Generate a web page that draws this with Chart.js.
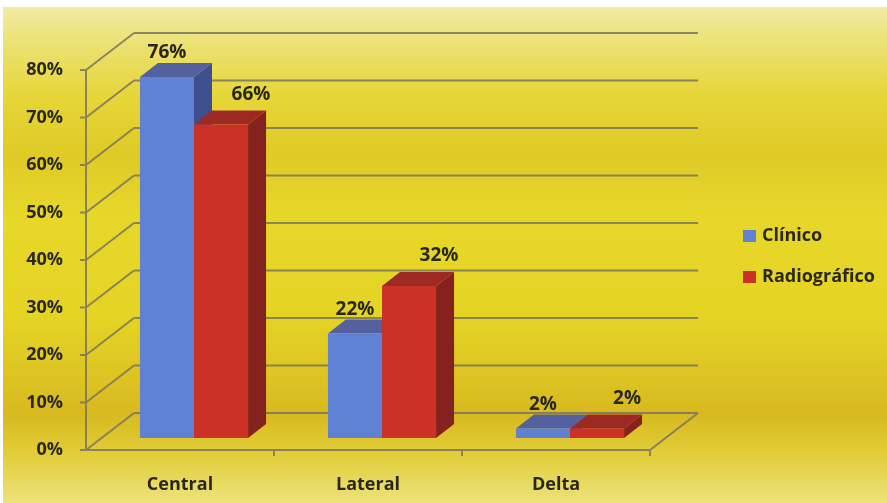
<!DOCTYPE html>
<html>
<head>
<meta charset="utf-8">
<script src="https://cdn.jsdelivr.net/npm/chart.js@4"></script>
<style>
  html, body { margin: 0; padding: 0; background: #fff; }
  #wrap { width: 887px; height: 503px; }
</style>
</head>
<body>
<div id="wrap"><canvas id="locChart" width="887" height="503"></canvas></div>
<script>
// Localização: clínico vs radiográfico (%)
const categories = ['Central', 'Lateral', 'Delta'];
const seriesNames = ['Clínico', 'Radiográfico'];
const clinico = [76, 22, 2];
const radiografico = [66, 32, 2];
const yMax = 80;
const yStep = 10;

const TEXT = '#2a281b';
const GRID = 'rgba(120, 118, 95, 0.85)';
const FONT = '"Open Sans", "Noto Sans", sans-serif';

// depth of the back wall and of the bars, plus where bars sit inside the box
const WALL = { dx: 48, dy: -37 };
const BAR_SHIFT = { dx: 14, dy: -12 };
const BAR_DEPTH = { dx: 18, dy: -14 };

const faces = [
    { front: '#5f82d4', top: '#55609e', side: '#3f4f8e' },
    { front: '#cc3128', top: '#9c2a22', side: '#86221e' }
];

const box3d = {
    id: 'box3d',
    beforeDraw(chart) {
        const { ctx, width, height } = chart;
        ctx.save();
        ctx.fillStyle = '#ffffff';
        ctx.fillRect(0, 0, width, height);
        const g = ctx.createLinearGradient(0, 7, 0, height);
        g.addColorStop(0.00, '#f1eca6');
        g.addColorStop(0.07, '#ece276');
        g.addColorStop(0.18, '#e6d638');
        g.addColorStop(0.30, '#dfca26');
        g.addColorStop(0.42, '#e7d72a');
        g.addColorStop(0.62, '#e5d424');
        g.addColorStop(0.76, '#dcc222');
        g.addColorStop(0.82, '#d8b920');
        g.addColorStop(0.90, '#e2cd38');
        g.addColorStop(1.00, '#ede27c');
        ctx.fillStyle = g;
        ctx.fillRect(3, 7, width - 3, height - 7);
        ctx.restore();
    },
    beforeDatasetsDraw(chart) {
        const { ctx, chartArea: a, scales } = chart;
        const y = scales.y;
        ctx.save();
        ctx.strokeStyle = GRID;
        ctx.lineWidth = 2;
        ctx.beginPath();
        // back wall lines, left wall diagonals and small ticks
        for (let v = 0; v <= yMax; v += yStep) {
            const py = y.getPixelForValue(v);
            ctx.moveTo(a.left + WALL.dx, py + WALL.dy);
            ctx.lineTo(a.right + WALL.dx, py + WALL.dy);
            ctx.moveTo(a.left, py);
            ctx.lineTo(a.left + WALL.dx, py + WALL.dy);
            ctx.moveTo(a.left - 6, py);
            ctx.lineTo(a.left, py);
        }
        // front axis and floor edges
        ctx.moveTo(a.left, a.top);
        ctx.lineTo(a.left, a.bottom);
        ctx.moveTo(a.left, a.bottom);
        ctx.lineTo(a.right, a.bottom);
        ctx.lineTo(a.right + WALL.dx, a.bottom + WALL.dy);
        // category separators
        const slot = (a.right - a.left) / categories.length;
        for (let i = 1; i <= categories.length; i++) {
            const px = a.left + slot * i;
            ctx.moveTo(px, a.bottom);
            ctx.lineTo(px, a.bottom + 6);
        }
        ctx.stroke();

        // bars as boxes: side, top, then front face
        chart.data.datasets.forEach((ds, di) => {
            const meta = chart.getDatasetMeta(di);
            const c = faces[di];
            meta.data.forEach((bar) => {
                const p = bar.getProps(['x', 'y', 'base', 'width'], true);
                const l = p.x - p.width / 2 + BAR_SHIFT.dx;
                const r = p.x + p.width / 2 + BAR_SHIFT.dx;
                const t = p.y + BAR_SHIFT.dy;
                const b = p.base + BAR_SHIFT.dy;
                ctx.fillStyle = c.side;
                ctx.beginPath();
                ctx.moveTo(r, t);
                ctx.lineTo(r + BAR_DEPTH.dx, t + BAR_DEPTH.dy);
                ctx.lineTo(r + BAR_DEPTH.dx, b + BAR_DEPTH.dy);
                ctx.lineTo(r, b);
                ctx.closePath();
                ctx.fill();
                ctx.fillStyle = c.top;
                ctx.beginPath();
                ctx.moveTo(l, t);
                ctx.lineTo(r, t);
                ctx.lineTo(r + BAR_DEPTH.dx, t + BAR_DEPTH.dy);
                ctx.lineTo(l + BAR_DEPTH.dx, t + BAR_DEPTH.dy);
                ctx.closePath();
                ctx.fill();
                ctx.fillStyle = c.front;
                ctx.fillRect(l, t, r - l, b - t);
            });
        });

        // value labels
        ctx.fillStyle = TEXT;
        ctx.font = 'bold 19px ' + FONT;
        ctx.textAlign = 'center';
        ctx.textBaseline = 'middle';
        chart.data.datasets.forEach((ds, di) => {
            const meta = chart.getDatasetMeta(di);
            meta.data.forEach((bar, i) => {
                const p = bar.getProps(['x', 'y'], true);
                const top = p.y + BAR_SHIFT.dy + BAR_DEPTH.dy;
                let lx, ly;
                if (di === 0) {
                    lx = p.x + BAR_SHIFT.dx;
                    ly = top - 10;
                } else {
                    lx = p.x + BAR_SHIFT.dx + BAR_DEPTH.dx + 12;
                    ly = top - 16;
                }
                ctx.fillText(ds.data[i] + '%', lx, ly);
            });
        });
        ctx.restore();
        return false;
    },
    afterDraw(chart) {
        const { ctx } = chart;
        ctx.save();
        ctx.font = 'bold 18px ' + FONT;
        ctx.textAlign = 'left';
        ctx.textBaseline = 'middle';
        chart.data.datasets.forEach((ds, di) => {
            const cy = 236 + di * 41;
            ctx.fillStyle = faces[di].front;
            ctx.fillRect(743, cy - 6, 13, 12);
            ctx.fillStyle = TEXT;
            ctx.fillText(ds.label, 762, cy);
        });
        ctx.restore();
    }
};

new Chart(document.getElementById('locChart'), {
    type: 'bar',
    data: {
        labels: categories,
        datasets: [
            { label: seriesNames[0], data: clinico, backgroundColor: faces[0].front },
            { label: seriesNames[1], data: radiografico, backgroundColor: faces[1].front }
        ]
    },
    options: {
        responsive: false,
        animation: false,
        layout: { padding: { top: 70, right: 237, left: 0, bottom: 0 } },
        datasets: { bar: { categoryPercentage: 0.575, barPercentage: 1 } },
        plugins: { legend: { display: false }, tooltip: { enabled: false } },
        scales: {
            x: {
                grid: { display: false },
                border: { display: false },
                ticks: { color: TEXT, padding: 16, font: { family: FONT, size: 18, weight: 'bold' } },
                afterFit: (scale) => { scale.height = 53; }
            },
            y: {
                min: 0,
                max: yMax,
                grid: { display: false },
                border: { display: false },
                ticks: {
                    stepSize: yStep,
                    color: TEXT,
                    padding: 15,
                    font: { family: FONT, size: 18, weight: 'bold' },
                    callback: (v) => v + '%'
                },
                afterFit: (scale) => { scale.width = 86; }
            }
        }
    },
    plugins: [box3d]
});
</script>
</body>
</html>
